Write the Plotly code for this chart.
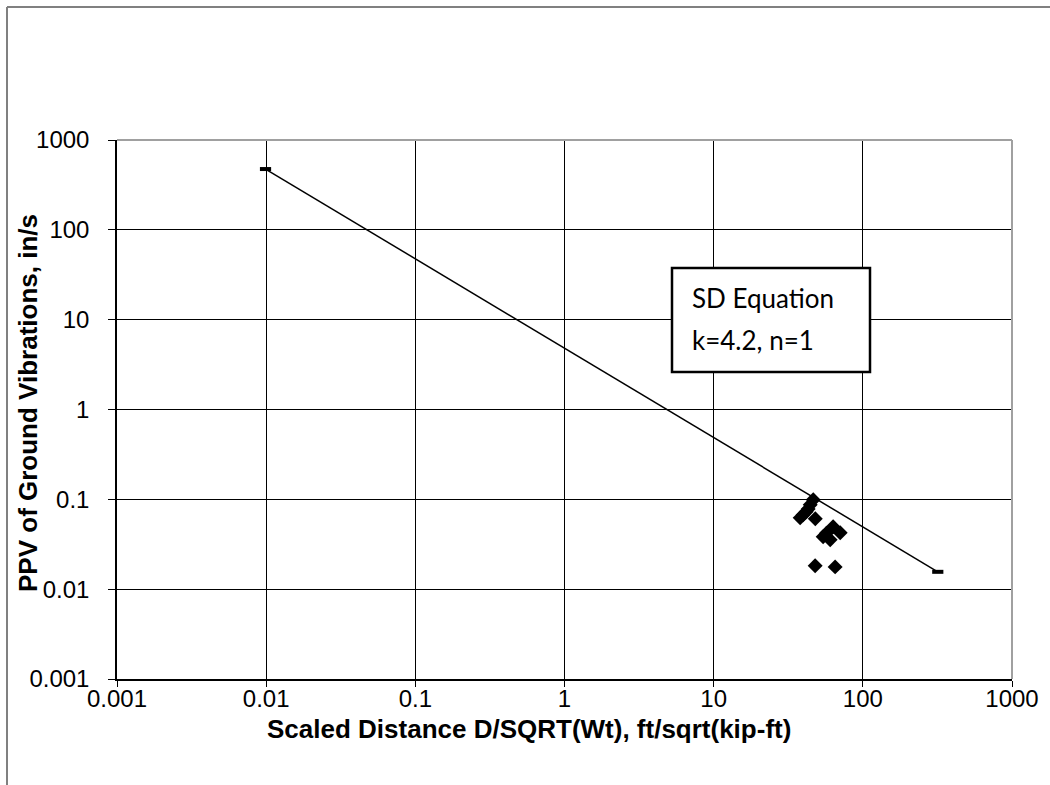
import plotly.graph_objects as go

# Measured data (scaled distance, PPV)
sd_data = [38.0, 39.8, 41.7, 44.4, 46.5, 48.0, 43.0, 63.2, 70.5, 54.2, 60.4, 57.0, 47.9, 65.2]
ppv_data = [0.0622, 0.0673, 0.0726, 0.0869, 0.0987, 0.0607, 0.078, 0.0494, 0.0424, 0.0383, 0.0355, 0.042, 0.0182, 0.0177]

# SD equation line (k=4.2, n=1) endpoints
sd_line = [0.0099, 318]
ppv_line = [475, 0.0156]

x_ticks = [0.001, 0.01, 0.1, 1, 10, 100, 1000]
x_tick_text = ["0.001", "0.01", "0.1", "1", "10", "100", "1000"]
y_ticks = [0.001, 0.01, 0.1, 1, 10, 100, 1000]
y_tick_text = ["0.001", "0.01", "0.1", "1", "10", "100", "1000"]

L, R, T, B = 117, 38, 140, 106
W, H = 1050, 785
PW, PH = W - L - R, H - T - B


def fx(px):
    return (px - L) / PW


def fy(py):
    return (H - B - py) / PH


fig = go.Figure()
fig.add_trace(go.Scatter(
    x=sd_line, y=ppv_line, mode="lines+markers",
    line=dict(color="black", width=1.5),
    marker=dict(symbol="line-ew-open", size=8, line=dict(color="black", width=4)),
    showlegend=False, cliponaxis=False))
fig.add_trace(go.Scatter(
    x=sd_data, y=ppv_data, mode="markers",
    marker=dict(symbol="diamond", size=11.5, color="black"),
    showlegend=False))

axis_font = dict(family="Liberation Sans, Arial, sans-serif", size=24, color="black")
fig.update_xaxes(type="log", range=[-3, 3], tickvals=x_ticks, ticktext=x_tick_text,
                 showgrid=True, gridcolor="black", gridwidth=1,
                 showline=True, linecolor="black", linewidth=1.5,
                 ticks="outside", ticklen=6, tickcolor="black", tickfont=axis_font,
                 ticklabelstandoff=-9, zeroline=False)
fig.update_yaxes(type="log", range=[-3, 3], tickvals=y_ticks, ticktext=y_tick_text,
                 showgrid=True, gridcolor="black", gridwidth=1,
                 showline=True, linecolor="black", linewidth=1.5,
                 ticks="outside", ticklen=7, tickcolor="black", tickfont=axis_font,
                 ticklabelstandoff=14, zeroline=False)

title_font = dict(family="Liberation Sans, Arial, sans-serif", size=26, color="black")
box_font = dict(family="Lato, Open Sans, sans-serif", size=26, color="black")
annotations = [
    dict(text="<b>Scaled Distance D/SQRT(Wt), ft/sqrt(kip-ft)</b>", xref="paper", yref="paper",
         x=fx(529), y=fy(729), showarrow=False, font=title_font, xanchor="center", yanchor="middle"),
    dict(text="<b>PPV of Ground Vibrations, in/s</b>", xref="paper", yref="paper",
         x=fx(28), y=fy(403), showarrow=False, font=title_font, textangle=-90,
         xanchor="center", yanchor="middle"),
    dict(text="SD Equation", xref="paper", yref="paper", x=fx(690), y=fy(297.5),
         xanchor="left", yanchor="middle", showarrow=False, font=box_font),
    dict(text="k=4.2, n=1", xref="paper", yref="paper", x=fx(690), y=fy(340),
         xanchor="left", yanchor="middle", showarrow=False, font=box_font),
]

shapes = [
    # equation text box
    dict(type="rect", xref="paper", yref="paper", x0=fx(672), x1=fx(870), y0=fy(372), y1=fy(268),
         line=dict(color="black", width=2.5), fillcolor="white", layer="above"),
    # plot area top/right border in gray
    dict(type="line", xref="paper", yref="paper", x0=0, x1=1, y0=1, y1=1,
         line=dict(color="#a0a0a0", width=2), layer="above"),
    dict(type="line", xref="paper", yref="paper", x0=1, x1=1, y0=0, y1=1,
         line=dict(color="#a0a0a0", width=2), layer="above"),
    # outer chart border (top and left)
    dict(type="line", xref="paper", yref="paper", x0=fx(7), x1=fx(1060),
         y0=fy(7), y1=fy(7), line=dict(color="#808080", width=2)),
    dict(type="line", xref="paper", yref="paper", x0=fx(7), x1=fx(7),
         y0=fy(7), y1=fy(800), line=dict(color="#808080", width=2)),
]

fig.update_layout(
    width=W, height=H,
    margin=dict(l=L, r=R, t=T, b=B),
    paper_bgcolor="white", plot_bgcolor="white",
    annotations=annotations, shapes=shapes,
)
fig.write_html("out.html")
